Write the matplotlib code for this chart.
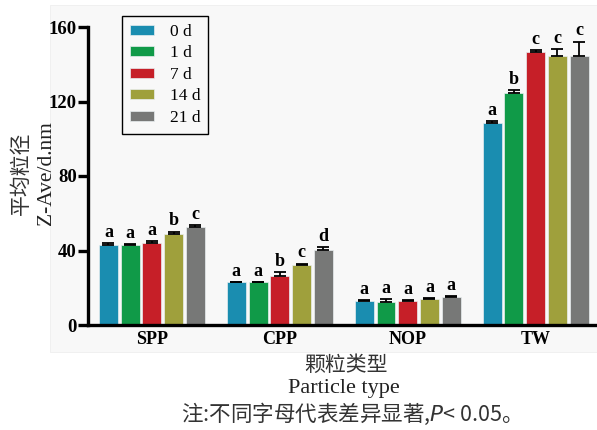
#!/usr/bin/env python3
# -*- coding: utf-8 -*-
"""
Particle size (Z-Ave) by particle type and storage time
"""

import numpy as np
import matplotlib
matplotlib.use("Agg")
import matplotlib.pyplot as plt
from matplotlib.patches import Rectangle

# =============================================================================
# 1. Data
# =============================================================================
particles = ["SPP", "CPP", "NOP", "TW"]
days = ["0 d", "1 d", "7 d", "14 d", "21 d"]

zave_0d = [42.8, 23.0, 13.0, 108.5]
zave_1d = [43.0, 23.0, 12.5, 124.5]
zave_7d = [44.0, 26.5, 13.0, 146.6]
zave_14d = [49.0, 32.2, 14.2, 144.2]
zave_21d = [52.7, 40.5, 15.3, 144.2]

err_0d = [1.0, 0.3, 0.3, 1.0]
err_1d = [0.6, 0.3, 1.2, 1.5]
err_7d = [1.2, 1.8, 0.4, 1.0]
err_14d = [1.2, 0.8, 0.4, 3.8]
err_21d = [0.8, 1.2, 0.4, 8.0]

sig_0d = ["a", "a", "a", "a"]
sig_1d = ["a", "a", "a", "b"]
sig_7d = ["a", "b", "a", "c"]
sig_14d = ["b", "c", "a", "c"]
sig_21d = ["c", "d", "a", "c"]

COLORS = ["#1a8db0", "#109a48", "#c61f28", "#9fa03c", "#777877"]
SERIF = ["Liberation Serif", "DejaVu Serif"]
CJK = ["Noto Sans CJK SC", "DejaVu Sans"]

# =============================================================================
# 2. Plot
# =============================================================================
values = [zave_0d, zave_1d, zave_7d, zave_14d, zave_21d]
errors = [err_0d, err_1d, err_7d, err_14d, err_21d]
letters = [sig_0d, sig_1d, sig_7d, sig_14d, sig_21d]

fig = plt.figure(figsize=(5.97, 4.3), dpi=100)
fig.patch.set_facecolor("white")
# light scan background panel
bg = Rectangle((50 / 597, 1 - 352 / 430), 1 - 50 / 597, (352 - 5) / 430,
               transform=fig.transFigure, facecolor="#f8f8f8",
               edgecolor="#eeeeee", linewidth=0.6, zorder=-10)
fig.patches.append(bg)

ax = fig.add_axes([88 / 597, 105 / 430, 509 / 597, 298 / 430])
ax.set_zorder(5)
ax.patch.set_alpha(0)

x = np.arange(len(particles))
step = 0.17
width = 0.148
for i, (vals, errs, sig) in enumerate(zip(values, errors, letters)):
    pos = x + (i - 2) * step
    ax.bar(pos, vals, width, color=COLORS[i], label=days[i], zorder=2,
           edgecolor="#e8eef0", linewidth=0.5)
    ax.errorbar(pos, vals, yerr=[np.zeros(len(vals)), errs], fmt="none",
                ecolor="black", elinewidth=1.3, capsize=4, capthick=1.3, zorder=3)
    for p, v, e, s in zip(pos, vals, errs, sig):
        ax.annotate(s, (p, v + e), xytext=(0, 1.5), textcoords="offset points",
                    ha="center", va="bottom", fontsize=13, fontweight="bold",
                    family=SERIF)

ax.set_xlim(-0.5, 3.48)
ax.set_ylim(0, 160)
ax.set_yticks([0, 40, 80, 120, 160])
ax.set_xticks(x)
ax.set_xticklabels(particles)

for side in ("top", "right"):
    ax.spines[side].set_visible(False)
for side in ("left", "bottom"):
    ax.spines[side].set_linewidth(2.4)

ax.tick_params(axis="y", direction="out", length=7, width=2.4, labelsize=13.5, pad=1)
ax.tick_params(axis="x", direction="in", length=6, width=2.4, labelsize=13, pad=4)
for lab in ax.get_xticklabels() + ax.get_yticklabels():
    lab.set_family(SERIF)
    lab.set_fontweight("bold")

leg = ax.legend(loc="upper left", bbox_to_anchor=(122 / 597, 1 - 16 / 430),
                bbox_transform=fig.transFigure, frameon=True, fancybox=False,
                edgecolor="black", framealpha=1, facecolor="#f8f8f8",
                prop={"family": SERIF, "size": 12.5}, handlelength=1.4,
                handleheight=0.5, handletextpad=0.9, labelspacing=0.32,
                borderpad=0.45, borderaxespad=0)
leg.get_frame().set_linewidth(1.0)

# axis labels
fig.text(21 / 597, 1 - 173 / 430, "平均粒径", rotation=90, ha="center", va="center",
         fontsize=15, family=CJK, color="#333333")
fig.text(46 / 597, 1 - 173 / 430, "Z-Ave/d.nm", rotation=90, ha="center", va="center",
         fontsize=15.5, family=SERIF, color="#222222")
fig.text(346 / 597, 1 - 365 / 430, "颗粒类型", ha="center", va="center",
         fontsize=15, family=CJK, color="#333333")
fig.text(344 / 597, 1 - 389 / 430, "Particle type", ha="center", va="center",
         fontsize=16, family=SERIF, color="#222222")
fig.text(346 / 597, 1 - 414 / 430, "注:不同字母代表差异显著,$P$< 0.05。",
         ha="center", va="center", fontsize=15.5, family=CJK, color="#333333")

fig.savefig("out.png", dpi=100, facecolor=fig.get_facecolor())
plt.close(fig)
